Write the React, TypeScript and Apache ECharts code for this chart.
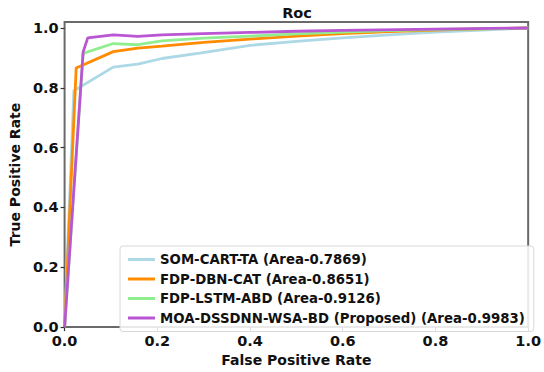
import React, { useEffect, useRef } from "react";
import * as echarts from "echarts";

const tickValues = [0, 0.2, 0.4, 0.6, 0.8, 1.0];

const seriesNames = [
  "SOM-CART-TA (Area-0.7869)",
  "FDP-DBN-CAT (Area-0.8651)",
  "FDP-LSTM-ABD (Area-0.9126)",
  "MOA-DSSDNN-WSA-BD (Proposed) (Area-0.9983)",
];
const seriesColors = ["#add8e6", "#ff8c00", "#90ee90", "#ba55d3"];

const somFpr = [0, 0.02, 0.105, 0.158, 0.21, 0.295, 0.4, 0.5, 0.6, 0.7, 0.8, 0.9, 1.0];
const somTpr = [0, 0.79, 0.869, 0.879, 0.898, 0.917, 0.942, 0.955, 0.967, 0.977, 0.986, 0.993, 1.0];

const dbnFpr = [0, 0.025, 0.105, 0.158, 0.21, 0.3, 0.4, 0.5, 0.6, 0.7, 0.8, 0.9, 1.0];
const dbnTpr = [0, 0.866, 0.921, 0.933, 0.939, 0.952, 0.963, 0.973, 0.981, 0.988, 0.993, 0.997, 1.0];

const lstmFpr = [0, 0.04, 0.105, 0.158, 0.21, 0.3, 0.4, 0.5, 0.6, 0.7, 0.8, 1.0];
const lstmTpr = [0, 0.915, 0.948, 0.944, 0.957, 0.966, 0.973, 0.98, 0.986, 0.991, 0.995, 1.0];

const moaFpr = [0, 0.04, 0.05, 0.105, 0.158, 0.21, 0.3, 0.4, 0.5, 0.6, 0.8, 1.0];
const moaTpr = [0, 0.92, 0.967, 0.977, 0.972, 0.977, 0.981, 0.985, 0.989, 0.992, 0.996, 1.0];

const fprs = [somFpr, dbnFpr, lstmFpr, moaFpr];
const tprs = [somTpr, dbnTpr, lstmTpr, moaTpr];

const FONT = "DejaVu Sans";

export default function App() {
  const ref = useRef<HTMLDivElement>(null);
  useEffect(() => {
    if (!ref.current) return;
    const chart = echarts.init(ref.current, null, { renderer: "svg" });
    const series = seriesNames.map((name, i) => ({
      name,
      type: "line",
      data: fprs[i].map((x, j) => [x, tprs[i][j]]),
      symbol: "none",
      lineStyle: { color: seriesColors[i], width: 2.8 },
      itemStyle: { color: seriesColors[i] },
      z: 2 + i,
    }));
    chart.setOption({
      animation: false,
      backgroundColor: "#ffffff",
      textStyle: { fontFamily: FONT },
      graphic: [
        {
          type: "text",
          x: 297,
          y: 13,
          style: {
            text: "Roc",
            align: "center",
            verticalAlign: "middle",
            font: `bold 14.5px '${FONT}'`,
            fill: "#111",
          },
        },
      ],
      grid: {
        left: 60,
        right: 10,
        top: 22,
        bottom: 38,
        show: true,
        borderColor: "#6a6a6a",
        borderWidth: 2,
        backgroundColor: "transparent",
      },
      xAxis: {
        type: "value",
        min: 0,
        max: 1,
        interval: 0.2,
        name: "False Positive Rate",
        nameLocation: "middle",
        nameGap: 21,
        nameTextStyle: { fontFamily: FONT, fontWeight: "bold", fontSize: 14, color: "#111" },
        axisLine: { show: false },
        axisTick: { show: true, length: 4, lineStyle: { color: "#333", width: 1.2 } },
        splitLine: { show: false },
        axisLabel: {
          margin: 6,
          fontFamily: FONT,
          fontWeight: "bold",
          fontSize: 14.5,
          color: "#111",
          formatter: (v: number) => v.toFixed(1),
        },
      },
      yAxis: {
        type: "value",
        min: 0,
        max: 1.02,
        name: "True Positive Rate",
        nameLocation: "middle",
        nameGap: 32,
        nameTextStyle: { fontFamily: FONT, fontWeight: "bold", fontSize: 14, color: "#111" },
        axisLine: { show: false },
        axisTick: {
          show: true,
          length: 4,
          customValues: tickValues,
          lineStyle: { color: "#333", width: 1.2 },
        },
        splitLine: { show: false },
        axisLabel: {
          margin: 6,
          customValues: tickValues,
          fontFamily: FONT,
          fontWeight: "bold",
          fontSize: 14.5,
          color: "#111",
          formatter: (v: number) => v.toFixed(1),
        },
      },
      legend: {
        orient: "vertical",
        left: 120,
        top: 246,
        data: seriesNames,
        icon: "rect",
        itemWidth: 27,
        itemHeight: 3,
        itemGap: 4.5,
        padding: [6, 9, 6, 8],
        borderColor: "#d8d8d8",
        borderWidth: 1,
        borderRadius: 3,
        backgroundColor: "rgba(255,255,255,0.85)",
        textStyle: {
          fontFamily: FONT,
          fontWeight: "bold",
          fontSize: 13.3,
          color: "#111",
          lineHeight: 15,
        },
      },
      series,
    });
    return () => chart.dispose();
  }, []);
  return (
    <div
      ref={ref}
      style={{ position: "fixed", left: 0, top: 0, width: 544, height: 372 }}
    />
  );
}
